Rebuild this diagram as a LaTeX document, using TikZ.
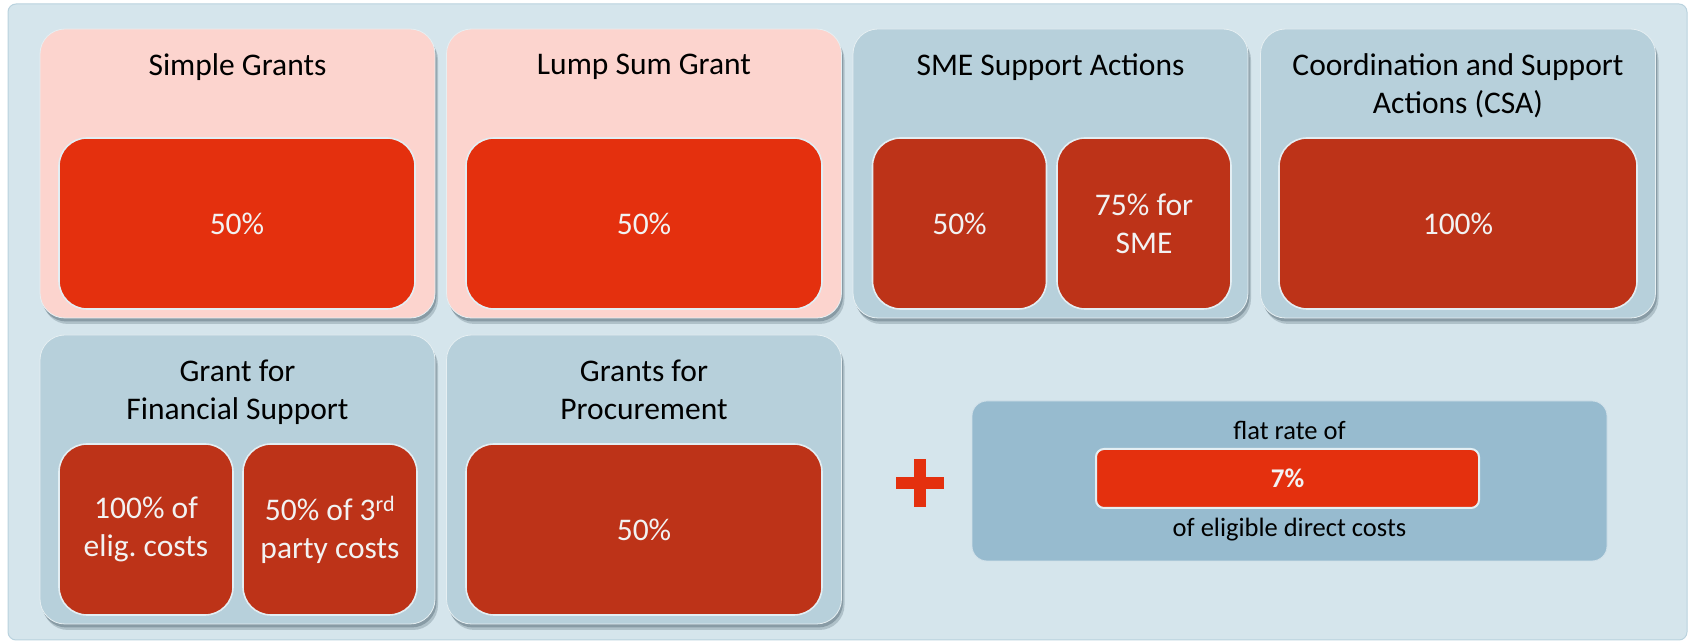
\documentclass[tikz,border=0pt]{standalone}
\usepackage{fontspec}
\setmainfont{Carlito}
\usetikzlibrary{shadows}
\frenchspacing
\definecolor{bgc}{HTML}{D5E5EC}
\definecolor{bgborder}{HTML}{B9D2DE}
\definecolor{pinkc}{HTML}{FCD4CE}
\definecolor{brightred}{HTML}{E4300E}
\definecolor{darkred}{HTML}{BD3318}
\definecolor{bluec}{HTML}{B7D0DB}
\definecolor{flatc}{HTML}{97BBCF}
\definecolor{innerline}{HTML}{E3EEF3}
\definecolor{shadowc}{HTML}{5A6E7A}
\definecolor{lighttext}{HTML}{F2F2F2}
\begin{document}
\begin{tikzpicture}[x=1pt,y=1pt,
  outerbox/.style={rounded corners=25pt, minimum width=395pt, minimum height=289pt,
    draw=white!65!bluec, line width=0.8pt, inner sep=0pt,
    general shadow={shadow xshift=3pt, shadow yshift=-6pt, fill=shadowc, opacity=0.3},
    general shadow={shadow xshift=1.5pt, shadow yshift=-3.5pt, fill=shadowc, opacity=0.45}},
  pinkbox/.style={outerbox, fill=pinkc},
  bluebox/.style={outerbox, fill=bluec},
  titletext/.style={anchor=north, inner sep=0pt, align=center, text=black,
    font=\fontsize{31.5}{38}\selectfont},
  innerbox/.style={rounded corners=28pt, minimum height=171pt, draw=innerline,
    line width=1.6pt, inner sep=0pt, align=center, text=lighttext,
    font=\fontsize{31.5}{38}\selectfont},
  widebox/.style={innerbox, minimum width=356pt},
  halfbox/.style={innerbox, minimum width=174pt},
  brightbox/.style={fill=brightred},
  darkbox/.style={fill=darkred},
  flattext/.style={anchor=base, inner sep=0pt, text=black, font=\fontsize{26.5}{32}\selectfont}
]
\useasboundingbox (0,0) rectangle (1690,642);
\fill[bgc, draw=bgborder, line width=1pt, rounded corners=8pt] (8,2) rectangle (1687,638);

% row 1 outer boxes
\node[pinkbox] (sg) at (237.5,468.5) {};
\node[pinkbox] (ls) at (644,468.5) {};
\node[bluebox] (sme) at (1050.5,468.5) {};
\node[bluebox] (csa) at (1458,468.5) {};
% row 2 outer boxes
\node[bluebox] (gfs) at (237.5,162.5) {};
\node[bluebox] (gfp) at (644,162.5) {};

% titles
\node[titletext] (tsg) at ([yshift=-25pt]sg.north) {Simple Grants};
\node[titletext] (tls) at ([yshift=-25pt]ls.north) {Lump Sum Grant};
\node[titletext] (tsme) at ([yshift=-25pt]sme.north) {SME Support Actions};
\node[titletext] (tcsa) at ([yshift=-25pt]csa.north) {Coordination and Support\\Actions (CSA)};
\node[titletext] (tgfs) at ([yshift=-25pt]gfs.north) {Grant for\\Financial Support};
\node[titletext] (tgfp) at ([yshift=-25pt]gfp.north) {Grants for\\Procurement};

% inner boxes row 1
\node[widebox, brightbox] (sg1) at (237,418.5) {50\%};
\node[widebox, brightbox] (ls1) at (644,418.5) {50\%};
\node[halfbox, darkbox] (sme1) at (959.5,418.5) {50\%};
\node[halfbox, darkbox] (sme2) at (1144,418.5) {75\% for\\SME};
\node[widebox, darkbox, minimum width=358pt] (csa1) at (1458,418.5) {100\%};
% inner boxes row 2
\node[halfbox, darkbox] (gfs1) at (146,112.5) {100\% of\\elig.\ costs};
\node[halfbox, darkbox] (gfs2) at (330,112.5) {50\% of 3\textsuperscript{rd}\\party costs};
\node[widebox, darkbox] (gfp1) at (644,112.5) {50\%};

% plus sign
\fill[brightred] (896,153) rectangle (944,165);
\fill[brightred] (914,135) rectangle (926,183);

% flat rate box
\node[rounded corners=15pt, minimum width=635pt, minimum height=160pt, fill=flatc,
  draw=white!55!flatc, line width=0.8pt, inner sep=0pt] (fr) at (1289.5,161) {};
\node[flattext] (frt) at (1289.5,202) {flat rate of};
\node[rounded corners=8pt, minimum width=383pt, minimum height=59pt, fill=brightred,
  draw=innerline, line width=2pt, inner sep=0pt, text=lighttext,
  font=\fontsize{27}{32}\selectfont\bfseries] (sev) at (1287.5,163.5) {7\%};
\node[flattext] (frb) at (1289.5,105) {of eligible direct costs};
\end{tikzpicture}
\end{document}
